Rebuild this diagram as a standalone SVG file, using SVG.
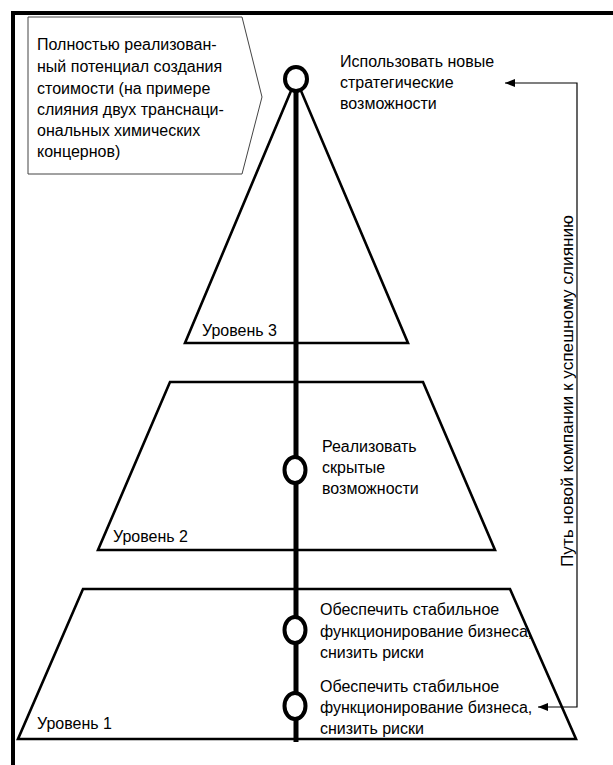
<svg xmlns="http://www.w3.org/2000/svg" width="613" height="765" viewBox="0 0 613 765">
  <style>
    text { font-family: "Liberation Sans", Arial, sans-serif; font-size: 16px; fill: #000; }
    .level { fill: none; stroke: #000; stroke-width: 2.6; stroke-linejoin: miter; }
    .frame { stroke: #000; stroke-width: 4; fill: none; }
    .callout { fill: #fff; stroke: #444; stroke-width: 1; }
    .axis { stroke: #000; stroke-width: 5; fill: none; }
    .stop { fill: #fff; stroke: #000; stroke-width: 4; }
    .conn { fill: none; stroke: #000; stroke-width: 1.2; }
  </style>
  <defs>
    <marker id="arrow" viewBox="0 0 10 8" refX="10" refY="4" markerWidth="10" markerHeight="8" markerUnits="userSpaceOnUse" orient="auto-start-reverse">
      <path d="M0,0 L10,4 L0,8 z" fill="#000"/>
    </marker>
  </defs>

  <rect width="613" height="765" fill="#fff"/>

  <!-- outer frame: top and left edges -->
  <g id="frame">
    <path class="frame" d="M13,765 V13 H613"/>
  </g>

  <!-- pyramid levels -->
  <g id="level3">
    <path class="level" d="M296,79 L185,343 H408 Z"/>
    <text x="202" y="336">Уровень 3</text>
  </g>
  <g id="level2">
    <path class="level" d="M170,382 H423 L495,550 H98 Z"/>
    <text x="113" y="542">Уровень 2</text>
  </g>
  <g id="level1">
    <path class="level" d="M83,589 H510 L576,739 H18 Z"/>
    <text x="37" y="729">Уровень 1</text>
  </g>

  <!-- central path through the levels -->
  <g id="axis">
    <line class="axis" x1="296" y1="79" x2="296" y2="742"/>
  </g>

  <!-- milestones on the path -->
  <g id="stop-top">
    <ellipse class="stop" cx="296" cy="79" rx="11" ry="12"/>
    <text x="340" y="67">Использовать новые</text>
    <text x="340" y="88">стратегические</text>
    <text x="340" y="109">возможности</text>
  </g>
  <g id="stop-hidden">
    <ellipse class="stop" cx="295" cy="470" rx="10.5" ry="13"/>
    <text x="322" y="452">Реализовать</text>
    <text x="322" y="473">скрытые</text>
    <text x="322" y="494">возможности</text>
  </g>
  <g id="stop-stable-a">
    <ellipse class="stop" cx="295" cy="630" rx="10.5" ry="13"/>
    <text x="320" y="615">Обеспечить стабильное</text>
    <text x="320" y="637">функционирование бизнеса,</text>
    <text x="320" y="658">снизить риски</text>
  </g>
  <g id="stop-stable-b">
    <ellipse class="stop" cx="295" cy="706" rx="10.5" ry="13"/>
    <text x="320" y="692">Обеспечить стабильное</text>
    <text x="320" y="713">функционирование бизнеса,</text>
    <text x="320" y="734">снизить риски</text>
  </g>

  <!-- callout note -->
  <g id="note">
    <path class="callout" d="M28,17 H242 L262,97 L242,174 H28 Z"/>
    <text x="37" y="50">Полностью реализован-</text>
    <text x="37" y="72">ный потенциал создания</text>
    <text x="37" y="94">стоимости (на примере</text>
    <text x="37" y="115">слияния двух транснаци-</text>
    <text x="37" y="136">ональных химических</text>
    <text x="37" y="157">концернов)</text>
  </g>

  <!-- side connector: company path to the merger -->
  <g id="connectors">
    <path class="conn" d="M538,707 H577 V83 H505" marker-start="url(#arrow)" marker-end="url(#arrow)"/>
  </g>
  <g id="path-label">
    <text transform="translate(573,391) rotate(-90)" text-anchor="middle" textLength="352" lengthAdjust="spacingAndGlyphs">Путь новой компании к успешному слиянию</text>
  </g>
</svg>
